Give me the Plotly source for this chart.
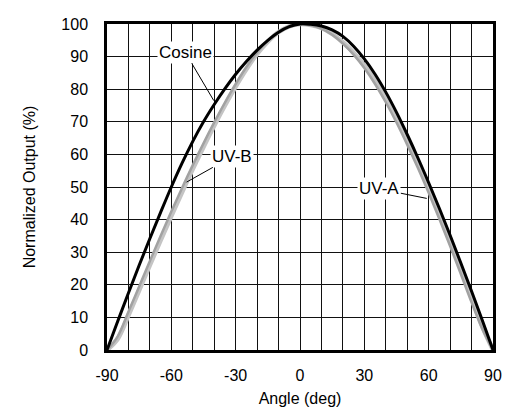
import plotly.graph_objects as go

angles = [-90, -85, -80, -75, -70, -65, -60, -55, -50, -45, -40, -35, -30, -25, -20, -15, -10, -5,
          0, 5, 10, 15, 20, 25, 30, 35, 40, 45, 50, 55, 60, 65, 70, 75, 80, 85, 90]

cosine = [0, 8.8, 17.5, 26, 34.2, 42.2, 50, 57.3, 64, 70, 75.3, 80.2, 84.6, 88.5, 92, 95, 97.5, 99.2,
          100, 99.9, 99.4, 98.2, 96.2, 93.2, 89.3, 84.6, 79.1, 72.9, 66.1, 58.9, 51.3, 43.4, 35.2, 26.7, 18, 9.1, 0]

uv_a = [0, 4.2, 11.7, 19.5, 27.3, 35, 42.5, 49.7, 56.7, 63.4, 69.8, 75.9, 81.6, 86.8, 91.3, 94.9, 97.6, 99.3,
        100, 99.6, 98.6, 96.7, 94, 90.6, 86.5, 81.6, 76, 69.8, 63, 55.8, 48.2, 40.2, 31.9, 23.3, 14.6, 6.5, 0]

uv_b = [0, 3.4, 10.6, 18.3, 26, 33.6, 41.1, 48.4, 55.5, 62.3, 68.8, 75, 80.8, 86.1, 90.8, 94.6, 97.5, 99.3,
        100, 99.7, 98.8, 97, 94.4, 91.2, 87.3, 82.6, 77.2, 71.1, 64.4, 57.3, 49.8, 41.8, 33.5, 24.9, 16, 7.2, 0]

x_ticks = [-90, -60, -30, 0, 30, 60, 90]
y_ticks = [0, 10, 20, 30, 40, 50, 60, 70, 80, 90, 100]

font_family = "Liberation Sans, Arial, sans-serif"

fig = go.Figure()
fig.add_trace(go.Scatter(x=angles, y=uv_b, mode="lines", line=dict(color="#c4c4c4", width=4.5, shape="spline"),
                         name="UV-B", showlegend=False))
fig.add_trace(go.Scatter(x=angles, y=uv_a, mode="lines", line=dict(color="#a2a2a2", width=2.5, shape="spline"),
                         name="UV-A", showlegend=False))
fig.add_trace(go.Scatter(x=angles, y=cosine, mode="lines", line=dict(color="#000000", width=3, shape="spline"),
                         name="Cosine", showlegend=False))

ann_font = dict(family=font_family, size=17, color="#000")
labels = [
    ("Cosine", -40.2, 76.5, -53.5, 91.3),
    ("UV-B", -52.9, 51.5, -31.5, 59.4),
    ("UV-A", 59.1, 46.5, 37.0, 49.4),
]
for text, x, y, ax, ay in labels:
    fig.add_annotation(x=x, y=y, ax=ax, ay=ay, axref="x", ayref="y", xref="x", yref="y",
                       text=text, showarrow=True, arrowhead=0, arrowwidth=1, arrowcolor="#000",
                       bgcolor="white", borderpad=1, font=ann_font)

fig.update_layout(
    width=502, height=405,
    margin=dict(l=99, r=9, t=8, b=63),
    plot_bgcolor="white", paper_bgcolor="white",
    font=dict(family=font_family, size=16, color="#000"),
    xaxis=dict(range=[-90, 90], tickvals=x_ticks, ticktext=[str(v) for v in x_ticks],
               showgrid=True, gridcolor="#111", gridwidth=1.2,
               minor=dict(dtick=10, tick0=0, showgrid=True, gridcolor="#111", gridwidth=1.2),
               showline=True, linecolor="#000", linewidth=2.5, mirror=True,
               ticks="outside", ticklen=9, tickcolor="rgba(0,0,0,0)",
               zeroline=False,
               title=dict(text="Angle (deg)", font=dict(size=16), standoff=10)),
    yaxis=dict(range=[0, 100], tickvals=y_ticks,
               showgrid=True, gridcolor="#111", gridwidth=1.2,
               showline=True, linecolor="#000", linewidth=2.5, mirror=True,
               ticks="outside", ticklen=13, tickcolor="rgba(0,0,0,0)",
               zeroline=False,
               title=dict(text="Normalized Output (%)", font=dict(size=16), standoff=22)),
)

fig.write_html("out.html")
